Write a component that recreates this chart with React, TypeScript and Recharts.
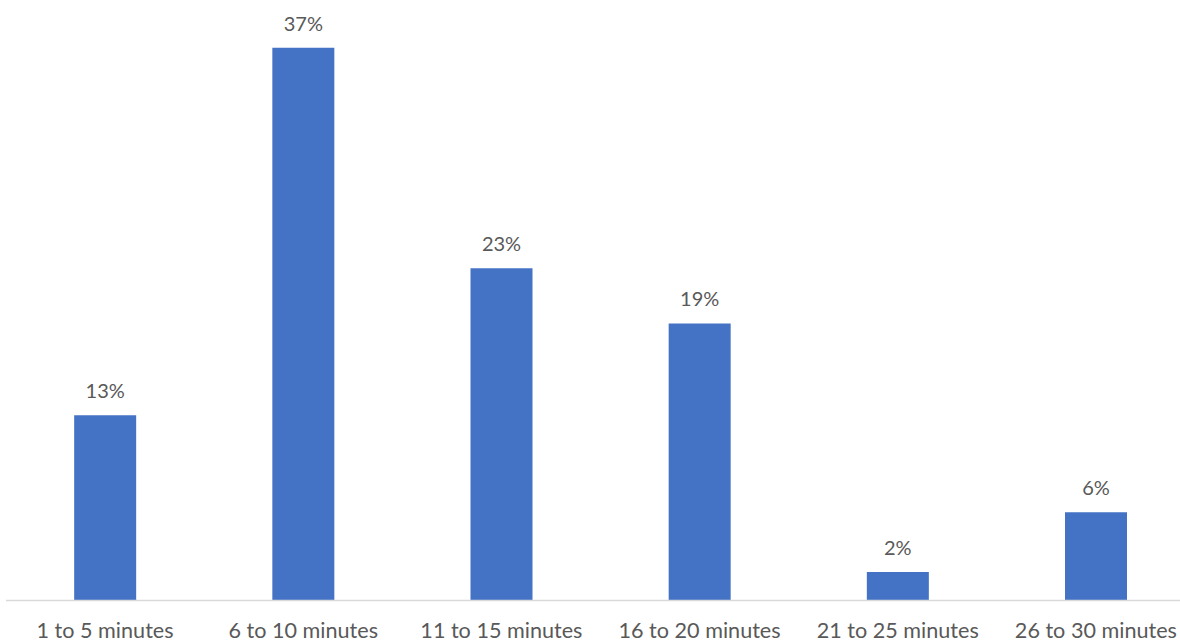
import React from "react";
import { BarChart, Bar, XAxis, YAxis, LabelList } from "recharts";

const categories = [
  "1 to 5 minutes",
  "6 to 10 minutes",
  "11 to 15 minutes",
  "16 to 20 minutes",
  "21 to 25 minutes",
  "26 to 30 minutes",
];
const values = [12.4, 37.0, 22.25, 18.55, 1.9, 5.9];
const valueLabels = ["13%", "37%", "23%", "19%", "2%", "6%"];

const data = categories.map((c, i) => ({ name: c, value: values[i], label: valueLabels[i] }));

const FONT = "Lato, 'Open Sans', sans-serif";
const TEXT = "#595959";

const Tick = (props: any) => {
  const { x, y, payload } = props;
  return (
    <text x={x} y={y + 29.5} textAnchor="middle" fontFamily={FONT} fontSize={21.6} fill={TEXT}>
      {payload.value}
    </text>
  );
};

const DataLabel = (props: any) => {
  const { x, y, width, index } = props;
  return (
    <text x={x + width / 2} y={y - 25} textAnchor="middle" dominantBaseline="central" fontFamily={FONT} fontSize={20} fill={TEXT}>
      {valueLabels[index]}
    </text>
  );
};

export default function App() {
  return (
    <div style={{ width: 1180, height: 643, overflow: "hidden", position: "relative", background: "#fff" }}>
      <style>{`html,body{margin:0;padding:0;overflow:hidden;}`}</style>
      <div style={{ position: "absolute", left: 0, top: 0 }}>
        <BarChart
          width={1195}
          height={643}
          data={data}
          margin={{ top: 3, right: 0, bottom: 0, left: 6 }}
          barCategoryGap="34.4%"
        >
          <XAxis
            dataKey="name"
            height={42.5}
            axisLine={{ stroke: "#d9d9d9", strokeWidth: 1.5 }}
            tickLine={false}
            tick={<Tick />}
            interval={0}
          />
          <YAxis hide domain={[0, 40]} />
          <Bar dataKey="value" fill="#4472C4" isAnimationActive={false}>
            <LabelList dataKey="label" content={<DataLabel />} />
          </Bar>
        </BarChart>
      </div>
    </div>
  );
}
